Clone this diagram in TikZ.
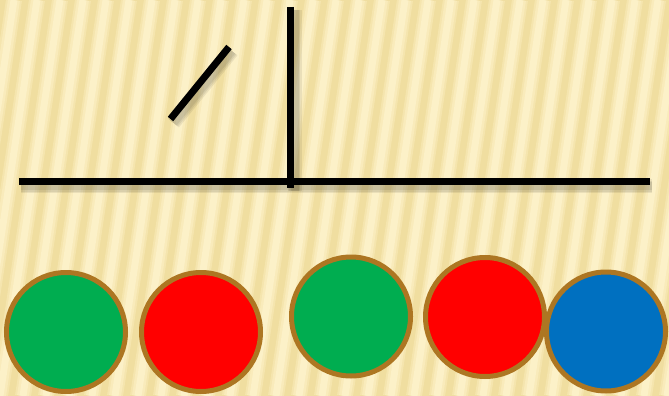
\documentclass[tikz,border=0pt]{standalone}
\begin{document}
\begin{tikzpicture}[x=1pt,y=-1pt,
  bgbase/.style={fill={rgb,255:red,240;green,222;blue,160}},
  stripe/.style={draw={rgb,255:red,252;green,241;blue,200},line width=7pt},
  stripemid/.style={draw={rgb,255:red,249;green,235;blue,187},line width=12pt},
  stripesoft/.style={draw={rgb,255:red,245;green,229;blue,174},line width=16pt},
  stick/.style={draw=black,line width=7pt},
  stickshadow/.style={draw=black,line width=#1,opacity=0.07},
  bead/.style={circle,draw={rgb,255:red,173;green,118;blue,34},line width=5pt,minimum size=119pt,inner sep=0pt},
  ]
\useasboundingbox (0,0) rectangle (669,396);
\fill[bgbase] (0,0) rectangle (669,396);
\begin{scope}
\clip (0,0) rectangle (669,396);
\foreach \i in {-5,...,32}{
  \draw[stripesoft] (\i*23,396) -- (\i*23+60,0);
  \draw[stripemid] (\i*23,396) -- (\i*23+60,0);
  \draw[stripe] (\i*23,396) -- (\i*23+60,0);
}
\end{scope}
% coordinates
\coordinate (hl) at (19,181);
\coordinate (hr) at (650,181);
\coordinate (vt) at (290.5,7);
\coordinate (vb) at (290.5,188);
\coordinate (sa) at (170.5,119);
\coordinate (sb) at (229,47);
% soft shadows
\foreach \w in {14pt,11pt,8pt}{
\draw[stickshadow=\w] ([shift={(2,5)}]hl) -- ([shift={(2,5)}]hr);
\draw[stickshadow=\w] ([shift={(4,3)}]vt) -- ([shift={(4,3)}]vb);
\draw[stickshadow=\w] ([shift={(3,4)}]sa) -- ([shift={(3,4)}]sb);
}
% sticks
\draw[stick] (hl) -- (hr);
\draw[stick] (vt) -- (vb);
\draw[stick] (sa) -- (sb);
% beads
\node[bead,fill={rgb,255:red,0;green,173;blue,80}] (c1) at (66,332) {};
\node[bead,fill={rgb,255:red,255;green,0;blue,0}] (c2) at (201,332) {};
\node[bead,fill={rgb,255:red,0;green,173;blue,80}] (c3) at (351,316.5) {};
\node[bead,fill={rgb,255:red,255;green,0;blue,0}] (c4) at (485,317) {};
\node[bead,fill={rgb,255:red,0;green,112;blue,192}] (c5) at (606,331.5) {};
\end{tikzpicture}
\end{document}
